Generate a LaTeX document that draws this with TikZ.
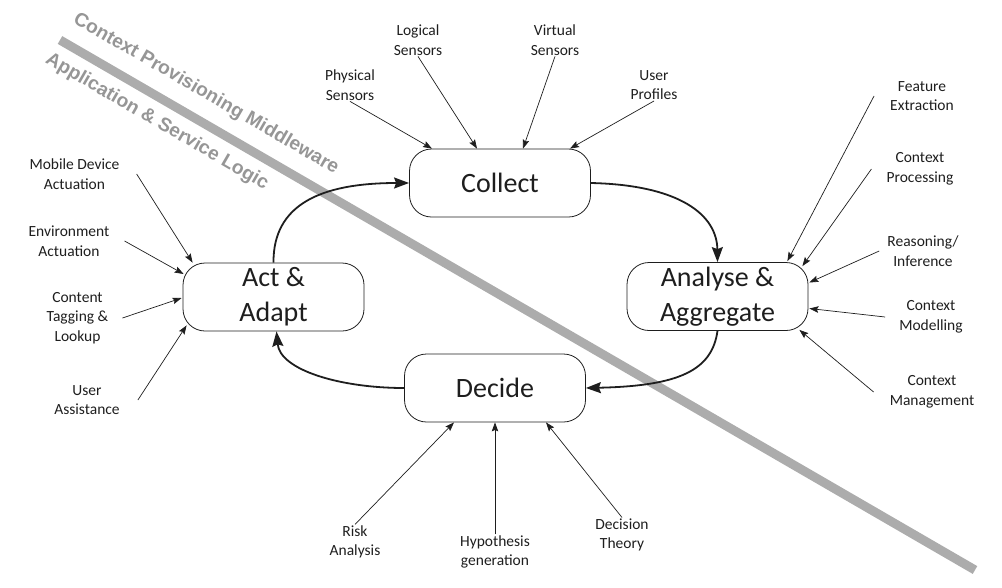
\documentclass[tikz,border=0pt]{standalone}
\usepackage{fontspec}
\setmainfont{Carlito}
\newfontfamily\layerfont{Liberation Sans}
\usetikzlibrary{arrows.meta,calc}
\definecolor{ink}{RGB}{30,30,30}
\definecolor{bar}{RGB}{172,172,172}
\definecolor{bartxt}{RGB}{150,150,150}
\tikzset{
  stage/.style={draw=ink,line width=0.8pt,rounded corners=22pt,minimum width=181pt,
    minimum height=68pt,align=center,text=ink,font=\fontsize{28}{35}\selectfont},
  lbl/.style={align=center,text=ink,inner sep=1pt,font=\fontsize{15.5}{19.5}\selectfont},
  feed/.style={-{Stealth[length=9pt,width=6.5pt,inset=1.5pt]},line width=0.7pt,draw=ink},
  cyc/.style={-{Stealth[length=15pt,width=11pt,inset=2pt]},line width=1.8pt,draw=ink},
  layer/.style={text=bartxt,rotate=-30.1,inner sep=0pt,
    font=\layerfont\bfseries\fontsize{19.2}{22}\selectfont},
}
\begin{document}
\begin{tikzpicture}[x=1pt,y=-1pt]
  \useasboundingbox (0,0) rectangle (1002,587);
  % layer boundary
  \draw[bar,line width=9pt] (60,40) -- (975,570);
  \node[layer] (mid) at (206,94) {Context Provisioning Middleware};
  \node[layer] (app) at (157,122) {Application \& Service Logic};
  % the four stages
  \node[stage] (col) at (500,183) {Collect};
  \node[stage] (ana) at (717.5,296.5) {Analyse \&\\Aggregate};
  \node[stage] (dec) at (495,388) {Decide};
  \node[stage] (act) at (273.5,297) {Act \&\\Adapt};
  \draw[cyc] (col.east) .. controls (680,185) and (717,215) .. (ana.north);
  \draw[cyc] (ana.south) .. controls (712,370) and (680,386) .. (dec.east);
  \draw[cyc] (dec.west) .. controls (340,388) and (280,370) .. ($(act.south)+(3,0)$);
  \draw[cyc] (act.north) .. controls (273,205) and (320,183) .. (col.west);
  % collect inputs
  \node[lbl] (phys) at (350,85) {Physical\\Sensors};
  \node[lbl] (logi) at (418,40) {Logical\\Sensors};
  \node[lbl] (virt) at (555,40) {Virtual\\Sensors};
  \node[lbl] (prof) at (654,85) {User\\Profiles};
  \draw[feed] (phys.south) -- ($(col.north)+(-68,0)$);
  \draw[feed] (logi.south) -- ($(col.north)+(-23,0)$);
  \draw[feed] (virt.south) -- ($(col.north)+(23,0)$);
  \draw[feed] (prof.south) -- ($(col.north)+(70,0)$);
  % analyse inputs
  \node[lbl] (feat) at (922,96) {Feature\\Extraction};
  \node[lbl] (proc) at (920,169) {Context\\Processing};
  \node[lbl] (reas) at (923,251) {Reasoning/\\Inference};
  \node[lbl] (modl) at (931,317) {Context\\Modelling};
  \node[lbl] (mgmt) at (932,392) {Context\\Management};
  \draw[feed] ([xshift=-15pt]feat.west) -- ($(ana.north east)+(-21,-1)$);
  \draw[feed] ([xshift=-14pt]proc.west) -- ($(ana.north east)+(-6,4)$);
  \draw[feed] ([xshift=-7pt]reas.west) -- ($(ana.east)+(1,-14)$);
  \draw[feed] ([xshift=-13pt]modl.west) -- ($(ana.east)+(1,12)$);
  \draw[feed] ([xshift=-15pt]mgmt.west) -- ($(ana.south east)+(-9,-1)$);
  % decide inputs
  \node[lbl] (risk) at (355,542) {Risk\\Analysis};
  \node[lbl] (hypo) at (495,552) {Hypothesis\\generation};
  \node[lbl] (theo) at (622,535) {Decision\\Theory};
  \draw[feed] (risk.north) -- ($(dec.south)+(-41,0)$);
  \draw[feed] (hypo.north) -- (dec.south);
  \draw[feed] (theo.north) -- ($(dec.south)+(51,0)$);
  % act outputs
  \node[lbl] (mobi) at (74.5,174) {Mobile Device\\Actuation};
  \node[lbl] (envi) at (69,241) {Environment\\Actuation};
  \node[lbl] (tagg) at (77.5,318) {Content\\Tagging \&\\Lookup};
  \node[lbl] (assi) at (87,400) {User\\Assistance};
  \draw[feed] ([xshift=16pt]mobi.east) -- ($(act.north west)+(10,0)$);
  \draw[feed] ([xshift=14pt]envi.east) -- ($(act.west)+(1,-23)$);
  \draw[feed] ([xshift=13pt]tagg.east) -- ($(act.west)+(-1,1)$);
  \draw[feed] ([xshift=17pt]assi.east) -- ($(act.south west)+(4,-6)$);
\end{tikzpicture}
\end{document}
